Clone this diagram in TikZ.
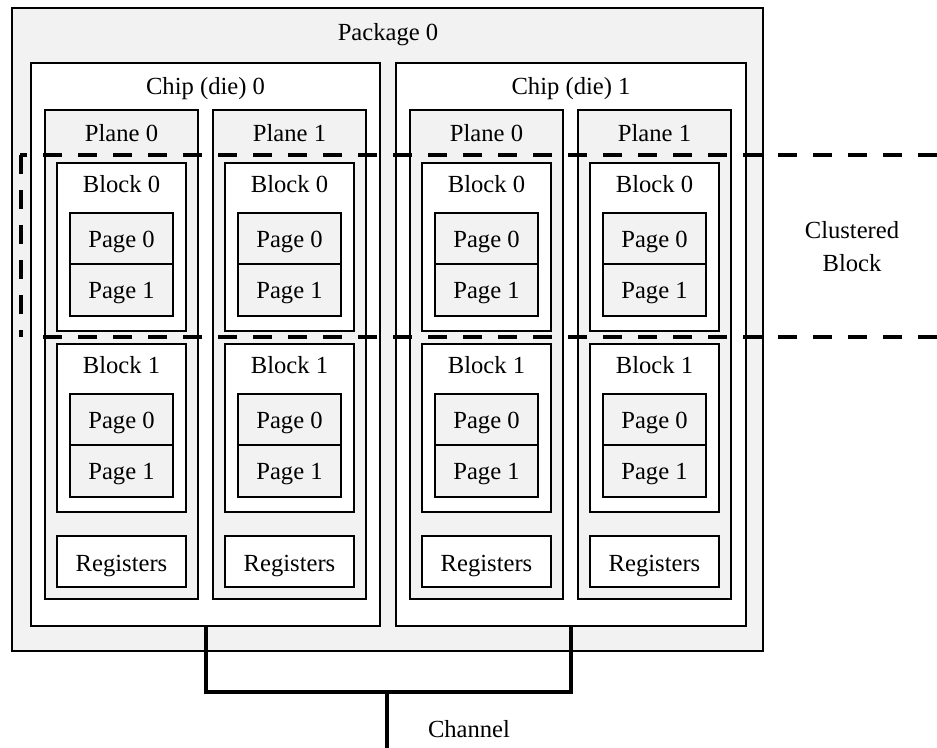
\documentclass[tikz,border=0pt]{standalone}
\usepackage{fontspec}
\setmainfont{Liberation Serif}
\usetikzlibrary{fit}
\definecolor{boxgray}{HTML}{F2F2F2}
\tikzset{
  grayframe/.style={draw, fill=boxgray, line width=1pt, inner sep=0pt},
  whiteframe/.style={draw, fill=white, line width=1pt, inner sep=0pt},
  clusterline/.style={line width=2pt, dash pattern=on 9.5pt off 8pt},
  busline/.style={line width=2pt},
  tag/.style={inner sep=0pt, anchor=base, font=\fontsize{12.3}{16.5}\selectfont, align=center},
}
\begin{document}
\begin{tikzpicture}[x=0.5pt, y=-0.5pt]
      \useasboundingbox (0,0) rectangle (937,748);
      \node[grayframe, fit={(12,8) (763,651)}] (pkg) {};
      \node[tag] (pkglabel) at (388,41) {Package 0};
      \node[whiteframe, fit={(31,63) (380,626)}] (chip0) {};
      \node[tag] (chiplabel0) at (205.5,95) {Chip (die) 0};
      \node[whiteframe, fit={(396,63) (746,626)}] (chip1) {};
      \node[tag] (chiplabel1) at (571,95) {Chip (die) 1};
      % planes, blocks, pages, registers
      \foreach \px/\pid [count=\i] in {45/0, 213/1, 410/0, 578/1} {
        \node[grayframe, fit={(\px,110) (\px+153,599)}] (plane\i) {};
        \node[tag] (planelabel\i) at (\px+76.5,142) {Plane \pid};
        \foreach \by/\b in {163/0, 344/1} {
          \node[whiteframe, fit={(\px+12,\by) (\px+141,\by+168)}] (block\i-\b) {};
          \node[tag] (blocklabel\i-\b) at (\px+76.5,\by+30) {Block \b};
          \node[grayframe, fit={(\px+25,\by+50) (\px+128,\by+101)}] (page\i-\b-0) {};
          \node[tag] (pagelabel\i-\b-0) at (\px+76.5,\by+85) {Page 0};
          \node[grayframe, fit={(\px+25,\by+101) (\px+128,\by+153)}] (page\i-\b-1) {};
          \node[tag] (pagelabel\i-\b-1) at (\px+76.5,\by+136) {Page 1};
        }
        \node[whiteframe, fit={(\px+12,536) (\px+141,587)}] (regs\i) {};
        \node[tag] (regslabel\i) at (\px+76.5,571) {Registers};
      }
      % clustered block
      \draw[clusterline] (937,155) -- (20,155);
      \draw[clusterline] (21,155) -- (21,337);
      \draw[clusterline] (937,337) -- (35,337);
      \node[tag] (clusterlabel) at (852,272) {Clustered\\Block};
      % channel
      \coordinate (busjoin) at (387,692);
      \coordinate (busend) at (387,748);
      \draw[busline] (chip0.south) |- (busjoin) -| (chip1.south);
      \draw[busline] (busjoin) -- (busend);
      \node[tag] (buslabel) at (469,737) {Channel};
    \end{tikzpicture}
\end{document}
